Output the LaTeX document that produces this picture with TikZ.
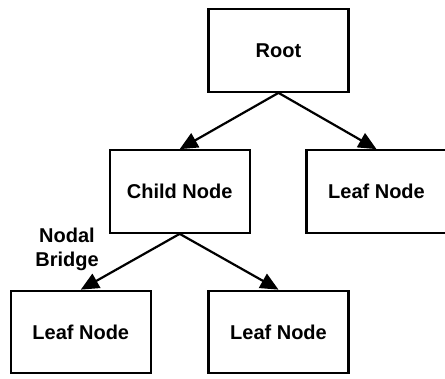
\documentclass[tikz,border=0pt]{standalone}
\usepackage{fontspec}
\setmainfont{Liberation Sans}
\usetikzlibrary{arrows.meta}
\begin{document}
\begin{tikzpicture}[x=1pt,y=1pt,
  box/.style={draw=black,line width=2.2pt,rectangle,minimum width=140pt,minimum height=82.5pt,inner sep=0pt,
    font=\fontsize{20}{24}\selectfont\bfseries},
  conn/.style={line width=2.2pt,-{Triangle[length=18pt,width=16pt]}},
  lbl/.style={align=center,inner sep=0pt,font=\fontsize{20}{24}\selectfont\bfseries}]
\useasboundingbox (0,0) rectangle (445,-378);
\clip (0,0) rectangle (445,-378);
\node[box] (root) at (278.5,-50.5) {Root};
\node[box] (child) at (179.7,-191.5) {Child Node};
\node[box] (rleaf) at (376.5,-191.5) {Leaf Node};
\node[box] (bl) at (80.8,-332) {Leaf Node};
\node[box] (bm) at (278.5,-332) {Leaf Node};
\node[lbl] (bridge) at (67,-249) {Nodal\\Bridge};
\draw[conn] (root.south) -- (child.north);
\draw[conn] (root.south) -- (rleaf.north);
\draw[conn] (child.south) -- (bl.north);
\draw[conn] (child.south) -- (bm.north);
\end{tikzpicture}
\end{document}
